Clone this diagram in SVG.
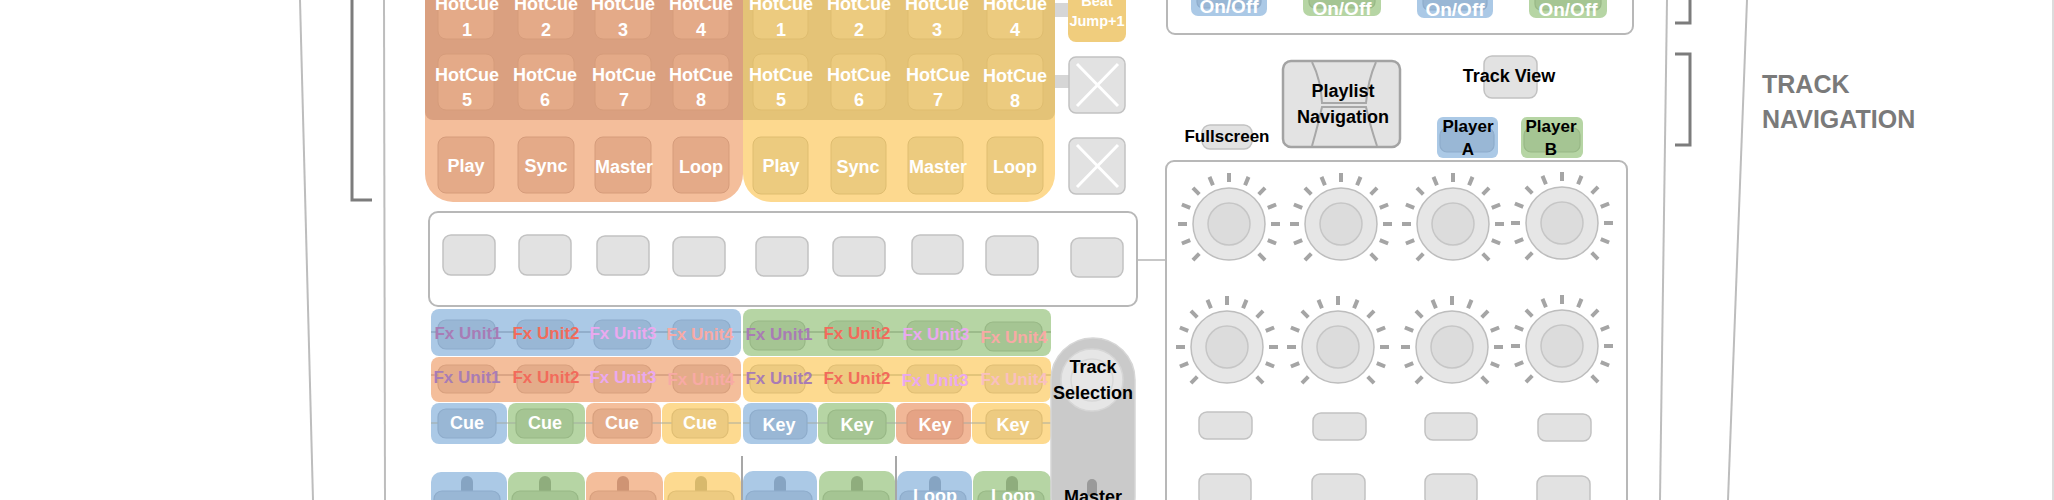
<svg xmlns="http://www.w3.org/2000/svg" xmlns:xlink="http://www.w3.org/1999/xlink" width="2054" height="500" viewBox="0 0 2054 500">
<style>
text{font-family:"Liberation Sans",Arial,sans-serif;font-weight:bold;text-anchor:middle}
.w{fill:#fff}
.k{fill:#000}
.frame{fill:none;stroke:#bdbdbd;stroke-width:2}
.br{fill:none;stroke:#7c7c7c;stroke-width:3}
.panel{fill:#fff;stroke:#b8b8b8;stroke-width:2}
.gb{fill:#e2e2e2;stroke:#c2c2c2;stroke-width:1.5}
.ob{fill:#e4aa88;stroke:#d69c7b;stroke-width:1}
.yb{fill:#eccb7f;stroke:#dfbd70;stroke-width:1}
.blue{fill:#abc9e6}.green{fill:#b6d5a4}.orange{fill:#f4be9b}.yellow{fill:#fdda90}
.bi{fill:#99b7d5;stroke:#8eaccb;stroke-width:1.2}
.gi{fill:#a5c593;stroke:#98b886;stroke-width:1.2}
.oi{fill:#e4ac8a;stroke:#d8a07e;stroke-width:1.2}
.yi{fill:#edcb81;stroke:#e0be74;stroke-width:1.2}
.u1{fill:#a87cb5}.u2{fill:#f26b5b}.u3{fill:#eaa9ef}.u4{fill:#f8aaa5}
.fx{font-size:17px}
.hc{font-size:18px}
.conn{fill:none;stroke-width:1.5}
</style>
<defs>
<g id="knob">
<path d="M0,-42V-51 M16.07,-38.8L19.52,-47.12 M29.7,-29.7L36.06,-36.06 M38.8,-16.07L47.12,-19.52 M42,0H51 M38.8,16.07L47.12,19.52 M29.7,29.7L36.06,36.06 M-16.07,-38.8L-19.52,-47.12 M-29.7,-29.7L-36.06,-36.06 M-38.8,-16.07L-47.12,-19.52 M-42,0H-51 M-38.8,16.07L-47.12,19.52 M-29.7,29.7L-36.06,36.06" stroke="#a5a5a5" stroke-width="4" fill="none"/>
<circle r="36" fill="#e6e6e6" stroke="#bdbdbd" stroke-width="1.5"/>
<circle r="21" fill="#dcdcdc" stroke="#c6c6c6" stroke-width="1.5"/>
</g>
</defs>
<rect width="2054" height="500" fill="#fff"/>

<g id="frame-lines">
<line x1="300" y1="0" x2="313" y2="500" class="frame"/>
<line x1="384" y1="0" x2="385" y2="500" class="frame"/>
<line x1="1667" y1="0" x2="1660" y2="500" class="frame"/>
<line x1="1747" y1="0" x2="1728" y2="500" class="frame"/>
<line x1="2053" y1="0" x2="2053" y2="500" stroke="#d0d0d0" stroke-width="1.5"/>
</g>

<g id="brackets">
<path d="M352,-5V200H372" class="br"/>
<path d="M1690,-5V23H1675" class="br"/>
<path d="M1675,54H1690V145H1675" class="br"/>
</g>

<g id="label-track-navigation">
<text x="1762" y="93" style="text-anchor:start;font-size:25px;fill:#7a7a7a">TRACK</text>
<text x="1762" y="128" style="text-anchor:start;font-size:25px;fill:#7a7a7a">NAVIGATION</text>
</g>

<g id="connectors">
<rect x="458" y="118" width="15" height="20" fill="#dea07e"/>
<rect x="538" y="118" width="15" height="20" fill="#dea07e"/>
<rect x="615" y="118" width="15" height="20" fill="#dea07e"/>
<rect x="694" y="118" width="15" height="20" fill="#dea07e"/>
<rect x="773" y="118" width="15" height="20" fill="#e3c276"/>
<rect x="851" y="118" width="15" height="20" fill="#e3c276"/>
<rect x="928" y="118" width="15" height="20" fill="#e3c276"/>
<rect x="1007" y="118" width="15" height="20" fill="#e3c276"/>
<rect x="1053" y="3" width="16" height="14" fill="#d6d6d6"/>
<rect x="1053" y="75" width="17" height="13" fill="#d6d6d6"/>
<line x1="1137" y1="260" x2="1166" y2="260" class="conn" stroke="#b5b5b5"/>
<line x1="742" y1="456" x2="742" y2="500" class="conn" stroke="#8a8a8a"/>
<line x1="896" y1="456" x2="896" y2="500" class="conn" stroke="#8a8a8a"/>
</g>

<g id="hotcue-deck-a">
<rect x="425" y="-40" width="318" height="242" rx="28" fill="#f4be9b"/>
<path d="M425,-40H743V120H433a8,8 0 0 1 -8,-8Z" fill="#daa080"/>
<rect x="438" y="-17" width="56" height="56" rx="8" class="ob"/>
<rect x="518" y="-17" width="56" height="56" rx="8" class="ob"/>
<rect x="595" y="-17" width="56" height="56" rx="8" class="ob"/>
<rect x="673" y="-17" width="56" height="56" rx="8" class="ob"/>
<rect x="438" y="54" width="56" height="56" rx="8" class="ob"/>
<rect x="518" y="54" width="56" height="56" rx="8" class="ob"/>
<rect x="595" y="54" width="56" height="56" rx="8" class="ob"/>
<rect x="673" y="54" width="56" height="56" rx="8" class="ob"/>
<rect x="438" y="137" width="56" height="56" rx="8" class="ob"/>
<rect x="518" y="137" width="56" height="56" rx="8" class="ob"/>
<rect x="595" y="137" width="56" height="56" rx="8" class="ob"/>
<rect x="673" y="137" width="56" height="56" rx="8" class="ob"/>
<text x="467" y="10" class="w hc">HotCue</text><text x="467" y="36" class="w hc">1</text>
<text x="546" y="10" class="w hc">HotCue</text><text x="546" y="36" class="w hc">2</text>
<text x="623" y="10" class="w hc">HotCue</text><text x="623" y="36" class="w hc">3</text>
<text x="701" y="10" class="w hc">HotCue</text><text x="701" y="36" class="w hc">4</text>
<text x="467" y="81" class="w hc">HotCue</text><text x="467" y="106" class="w hc">5</text>
<text x="545" y="81" class="w hc">HotCue</text><text x="545" y="106" class="w hc">6</text>
<text x="624" y="81" class="w hc">HotCue</text><text x="624" y="106" class="w hc">7</text>
<text x="701" y="81" class="w hc">HotCue</text><text x="701" y="106" class="w hc">8</text>
<text x="466" y="172" class="w hc">Play</text>
<text x="546" y="172" class="w hc">Sync</text>
<text x="624" y="173" class="w hc">Master</text>
<text x="701" y="173" class="w hc">Loop</text>
</g>

<g id="hotcue-deck-b">
<rect x="743" y="-40" width="312" height="242" rx="28" fill="#fdd98f"/>
<path d="M743,-40H1055V112a8,8 0 0 1 -8,8H743Z" fill="#e4c377"/>
<rect x="753" y="-17" width="55" height="56" rx="8" class="yb"/>
<rect x="831" y="-17" width="55" height="56" rx="8" class="yb"/>
<rect x="908" y="-17" width="55" height="56" rx="8" class="yb"/>
<rect x="987" y="-17" width="56" height="56" rx="8" class="yb"/>
<rect x="753" y="54" width="55" height="56" rx="8" class="yb"/>
<rect x="831" y="54" width="55" height="56" rx="8" class="yb"/>
<rect x="908" y="54" width="55" height="56" rx="8" class="yb"/>
<rect x="987" y="54" width="56" height="56" rx="8" class="yb"/>
<rect x="753" y="137" width="55" height="57" rx="8" class="yb"/>
<rect x="831" y="137" width="55" height="57" rx="8" class="yb"/>
<rect x="908" y="137" width="55" height="57" rx="8" class="yb"/>
<rect x="987" y="137" width="56" height="57" rx="8" class="yb"/>
<text x="781" y="10" class="w hc">HotCue</text><text x="781" y="36" class="w hc">1</text>
<text x="859" y="10" class="w hc">HotCue</text><text x="859" y="36" class="w hc">2</text>
<text x="937" y="10" class="w hc">HotCue</text><text x="937" y="36" class="w hc">3</text>
<text x="1015" y="10" class="w hc">HotCue</text><text x="1015" y="36" class="w hc">4</text>
<text x="781" y="81" class="w hc">HotCue</text><text x="781" y="106" class="w hc">5</text>
<text x="859" y="81" class="w hc">HotCue</text><text x="859" y="106" class="w hc">6</text>
<text x="938" y="81" class="w hc">HotCue</text><text x="938" y="106" class="w hc">7</text>
<text x="1015" y="82" class="w hc">HotCue</text><text x="1015" y="107" class="w hc">8</text>
<text x="781" y="172" class="w hc">Play</text>
<text x="858" y="173" class="w hc">Sync</text>
<text x="938" y="173" class="w hc">Master</text>
<text x="1015" y="173" class="w hc">Loop</text>
</g>

<g id="beat-jump">
<rect x="1068" y="-20" width="58" height="62" rx="8" fill="#f0cd7d"/>
<text x="1097" y="6" class="w" style="font-size:14.5px">Beat</text>
<text x="1097" y="26" class="w" style="font-size:14.5px">Jump+1</text>
</g>

<g id="x-button-1">
<rect x="1069" y="57" width="56" height="56" rx="7" class="gb"/>
<path d="M1077,64L1118,106M1118,64L1077,106" stroke="#fff" stroke-width="3"/>
</g>
<g id="x-button-2">
<rect x="1069" y="138" width="56" height="56" rx="7" class="gb"/>
<path d="M1077,145L1118,187M1118,145L1077,187" stroke="#fff" stroke-width="3"/>
</g>

<g id="button-strip">
<rect x="429" y="212" width="708" height="94" rx="9" class="panel"/>
<rect x="443" y="235" width="52" height="40" rx="8" class="gb"/>
<rect x="519" y="235" width="52" height="40" rx="8" class="gb"/>
<rect x="597" y="236" width="52" height="39" rx="8" class="gb"/>
<rect x="673" y="237" width="52" height="39" rx="8" class="gb"/>
<rect x="756" y="237" width="52" height="39" rx="8" class="gb"/>
<rect x="833" y="237" width="52" height="39" rx="8" class="gb"/>
<rect x="912" y="235" width="51" height="39" rx="8" class="gb"/>
<rect x="986" y="236" width="52" height="39" rx="8" class="gb"/>
<rect x="1071" y="238" width="52" height="39" rx="8" class="gb"/>
</g>

<g id="fx-row-1-a">
<rect x="431" y="309" width="310" height="47" rx="8" class="blue"/>
<line x1="431" y1="332" x2="741" y2="332" stroke="#92aecb" stroke-width="2"/>
<rect x="438" y="320" width="57" height="29" rx="8" class="bi"/>
<rect x="517" y="320" width="57" height="29" rx="8" class="bi"/>
<rect x="594" y="320" width="57" height="29" rx="8" class="bi"/>
<rect x="673" y="320" width="57" height="29" rx="8" class="bi"/>
<text x="468" y="339" class="fx u1">Fx Unit1</text>
<text x="546" y="339" class="fx u2">Fx Unit2</text>
<text x="623" y="339" class="fx u3">Fx Unit3</text>
<text x="700" y="340" class="fx u4">Fx Unit4</text>
</g>
<g id="fx-row-1-b">
<rect x="743" y="309" width="308" height="47" rx="8" class="green"/>
<line x1="743" y1="332" x2="1051" y2="332" stroke="#9cbb8b" stroke-width="2"/>
<rect x="750" y="321" width="55" height="29" rx="8" class="gi"/>
<rect x="828" y="321" width="55" height="29" rx="8" class="gi"/>
<rect x="907" y="321" width="55" height="29" rx="8" class="gi"/>
<rect x="985" y="322" width="57" height="29" rx="8" class="gi"/>
<text x="779" y="340" class="fx u1">Fx Unit1</text>
<text x="857" y="339" class="fx u2">Fx Unit2</text>
<text x="936" y="340" class="fx u3">Fx Unit3</text>
<text x="1014" y="343" class="fx u4">Fx Unit4</text>
</g>
<g id="fx-row-2-a">
<rect x="431" y="357" width="310" height="45" rx="8" class="orange"/>
<line x1="431" y1="375" x2="741" y2="375" stroke="#dba585" stroke-width="2"/>
<rect x="438" y="365" width="57" height="28" rx="8" class="oi"/>
<rect x="517" y="365" width="57" height="28" rx="8" class="oi"/>
<rect x="594" y="365" width="57" height="28" rx="8" class="oi"/>
<rect x="673" y="365" width="57" height="28" rx="8" class="oi"/>
<text x="467" y="383" class="fx u1">Fx Unit1</text>
<text x="546" y="383" class="fx u2">Fx Unit2</text>
<text x="623" y="383" class="fx u3">Fx Unit3</text>
<text x="701" y="385" class="fx u4">Fx Unit4</text>
</g>
<g id="fx-row-2-b">
<rect x="743" y="357" width="308" height="45" rx="8" class="yellow"/>
<line x1="743" y1="375" x2="1051" y2="375" stroke="#e3c57a" stroke-width="2"/>
<rect x="750" y="365" width="55" height="28" rx="8" class="yi"/>
<rect x="828" y="365" width="55" height="28" rx="8" class="yi"/>
<rect x="907" y="365" width="55" height="28" rx="8" class="yi"/>
<rect x="985" y="365" width="57" height="28" rx="8" class="yi"/>
<text x="779" y="384" class="fx u1">Fx Unit2</text>
<text x="857" y="384" class="fx u2">Fx Unit2</text>
<text x="935" y="386" class="fx u3">Fx Unit3</text>
<text x="1014" y="385" class="fx" style="fill:#f9c0c0">Fx Unit4</text>
</g>

<g id="cue-row">
<rect x="431" y="403" width="76" height="41" rx="8" class="blue"/>
<rect x="508" y="403" width="77" height="41" rx="8" class="green"/>
<rect x="586" y="403" width="75" height="41" rx="8" class="orange"/>
<rect x="662" y="403" width="79" height="41" rx="8" class="yellow"/>
<line x1="431" y1="423" x2="741" y2="423" stroke="#a0a8a0" stroke-width="1.5" opacity="0.6"/>
<rect x="438" y="409" width="58" height="29" rx="8" class="bi"/>
<rect x="516" y="409" width="57" height="29" rx="8" class="gi"/>
<rect x="593" y="409" width="59" height="29" rx="8" class="oi"/>
<rect x="672" y="409" width="56" height="29" rx="8" class="yi"/>
<text x="467" y="429" class="w hc">Cue</text>
<text x="545" y="429" class="w hc">Cue</text>
<text x="622" y="429" class="w hc">Cue</text>
<text x="700" y="429" class="w hc">Cue</text>
</g>
<g id="key-row">
<rect x="743" y="403" width="74" height="41" rx="8" class="blue"/>
<rect x="818" y="403" width="77" height="41" rx="8" class="green"/>
<rect x="896" y="403" width="75" height="41" rx="8" style="fill:#f1b797"/>
<rect x="972" y="403" width="79" height="41" rx="8" class="yellow"/>
<line x1="743" y1="423" x2="1051" y2="423" stroke="#a0a8a0" stroke-width="1.5" opacity="0.6"/>
<rect x="750" y="410" width="57" height="29" rx="8" class="bi"/>
<rect x="828" y="410" width="58" height="29" rx="8" class="gi"/>
<rect x="907" y="410" width="56" height="29" rx="8" style="fill:#e5a385;stroke:#d99a7c;stroke-width:1.2"/>
<rect x="986" y="410" width="56" height="29" rx="8" class="yi"/>
<text x="779" y="431" class="w hc">Key</text>
<text x="857" y="431" class="w hc">Key</text>
<text x="935" y="431" class="w hc">Key</text>
<text x="1013" y="431" class="w hc">Key</text>
</g>

<g id="bottom-row-a">
<rect x="431" y="472" width="76" height="60" rx="10" class="blue"/>
<rect x="508" y="472" width="77" height="60" rx="10" class="green"/>
<rect x="586" y="472" width="77" height="60" rx="10" class="orange"/>
<rect x="664" y="472" width="77" height="60" rx="10" class="yellow"/>
<rect x="461" y="476" width="12" height="20" rx="6" fill="#86a4c2"/>
<rect x="539" y="476" width="12" height="20" rx="6" fill="#8fad7d"/>
<rect x="617" y="476" width="12" height="20" rx="6" fill="#cf9474"/>
<rect x="695" y="476" width="12" height="20" rx="6" fill="#d8b96c"/>
<rect x="434" y="491" width="66" height="30" rx="8" class="bi"/>
<rect x="512" y="491" width="66" height="30" rx="8" class="gi"/>
<rect x="590" y="491" width="66" height="30" rx="8" class="oi"/>
<rect x="668" y="491" width="66" height="30" rx="8" class="yi"/>
</g>
<g id="bottom-row-b">
<rect x="743" y="471" width="74" height="60" rx="10" class="blue"/>
<rect x="819" y="471" width="76" height="60" rx="10" class="green"/>
<rect x="897" y="471" width="75" height="60" rx="10" class="blue"/>
<rect x="973" y="471" width="78" height="60" rx="10" class="green"/>
<rect x="774" y="476" width="12" height="20" rx="6" fill="#86a4c2"/>
<rect x="851" y="476" width="12" height="20" rx="6" fill="#8fad7d"/>
<rect x="929" y="476" width="12" height="20" rx="6" fill="#86a4c2"/>
<rect x="1006" y="476" width="12" height="20" rx="6" fill="#8fad7d"/>
<rect x="746" y="491" width="66" height="30" rx="8" class="bi"/>
<rect x="823" y="491" width="66" height="30" rx="8" class="gi"/>
<rect x="900" y="491" width="66" height="30" rx="8" class="bi"/>
<rect x="978" y="491" width="66" height="30" rx="8" class="gi"/>
<text x="935" y="502" class="w hc">Loop</text>
<text x="1013" y="502" class="w hc">Loop</text>
</g>

<g id="track-selection">
<rect x="1051" y="338" width="84" height="200" rx="42" fill="#cacaca" stroke="#d6d6d6" stroke-width="1.5"/>
<circle cx="1092" cy="380" r="31" fill="#e6e6e6" stroke="#d6d6d6" stroke-width="1.5"/>
<circle cx="1092" cy="380" r="21" fill="none" stroke="#d8d8d8" stroke-width="1.5"/>
<rect x="1087" y="479" width="10" height="18" rx="5" fill="#9a9a9a"/>
<text x="1093" y="373" class="k hc">Track</text>
<text x="1093" y="399" class="k hc">Selection</text>
<text x="1093" y="503" class="k hc">Master</text>
</g>

<g id="onoff-panel">
<rect x="1167" y="-20" width="466" height="54" rx="8" class="panel"/>
<rect x="1191" y="-10" width="76" height="26" rx="7" class="blue"/>
<rect x="1303" y="-10" width="78" height="26" rx="7" class="green"/>
<rect x="1417" y="-10" width="76" height="28" rx="7" class="blue"/>
<rect x="1529" y="-10" width="78" height="28" rx="7" class="green"/>
<rect x="1197" y="-10" width="64" height="18" rx="6" class="bi"/>
<rect x="1309" y="-10" width="66" height="18" rx="6" class="gi"/>
<rect x="1423" y="-10" width="64" height="20" rx="6" class="bi"/>
<rect x="1535" y="-10" width="66" height="20" rx="6" class="gi"/>
<text x="1229" y="13" class="w" style="font-size:19px">On/Off</text>
<text x="1342" y="15" class="w" style="font-size:19px">On/Off</text>
<text x="1455" y="16" class="w" style="font-size:19px">On/Off</text>
<text x="1568" y="16" class="w" style="font-size:19px">On/Off</text>
</g>

<g id="fullscreen">
<rect x="1202" y="125" width="50" height="24" rx="8" class="gb"/>
<text x="1227" y="142" class="k" style="font-size:17px">Fullscreen</text>
</g>

<g id="playlist-navigation">
<rect x="1283" y="61" width="117" height="86" rx="8" fill="#e3e3e3" stroke="#a3a3a3" stroke-width="2.5"/>
<path d="M1312,62Q1321,80 1322,103H1366Q1368,80 1376,62M1312,146Q1318,125 1322,107H1366Q1370,125 1377,146" fill="none" stroke="#a8a8a8" stroke-width="2"/>
<text x="1343" y="97" class="k hc">Playlist</text>
<text x="1343" y="123" class="k hc">Navigation</text>
</g>

<g id="track-view">
<rect x="1484" y="56" width="53" height="42" rx="8" class="gb"/>
<text x="1509" y="82" class="k hc">Track View</text>
</g>

<g id="player-a">
<rect x="1437" y="117" width="61" height="41" rx="6" class="blue"/>
<rect x="1440" y="128" width="54" height="24" rx="7" class="bi"/>
<text x="1468" y="132" class="k" style="font-size:17px">Player</text>
<text x="1468" y="155" class="k" style="font-size:17px">A</text>
</g>
<g id="player-b">
<rect x="1521" y="117" width="62" height="41" rx="6" class="green"/>
<rect x="1524" y="128" width="56" height="24" rx="7" class="gi"/>
<text x="1551" y="132" class="k" style="font-size:17px">Player</text>
<text x="1551" y="155" class="k" style="font-size:17px">B</text>
</g>

<g id="knob-panel">
<rect x="1166" y="161" width="461" height="380" rx="8" class="panel"/>
<use xlink:href="#knob" href="#knob" x="1229" y="224"/>
<use xlink:href="#knob" href="#knob" x="1341" y="224"/>
<use xlink:href="#knob" href="#knob" x="1453" y="224"/>
<use xlink:href="#knob" href="#knob" x="1562" y="223"/>
<use xlink:href="#knob" href="#knob" x="1227" y="347"/>
<use xlink:href="#knob" href="#knob" x="1338" y="347"/>
<use xlink:href="#knob" href="#knob" x="1452" y="347"/>
<use xlink:href="#knob" href="#knob" x="1562" y="346"/>
<rect x="1199" y="412" width="53" height="27" rx="8" class="gb"/>
<rect x="1313" y="413" width="53" height="27" rx="8" class="gb"/>
<rect x="1425" y="413" width="52" height="27" rx="8" class="gb"/>
<rect x="1538" y="414" width="53" height="27" rx="8" class="gb"/>
<rect x="1199" y="474" width="52" height="32" rx="8" class="gb"/>
<rect x="1312" y="474" width="53" height="32" rx="8" class="gb"/>
<rect x="1425" y="474" width="52" height="32" rx="8" class="gb"/>
<rect x="1537" y="476" width="53" height="32" rx="8" class="gb"/>
</g>
</svg>
